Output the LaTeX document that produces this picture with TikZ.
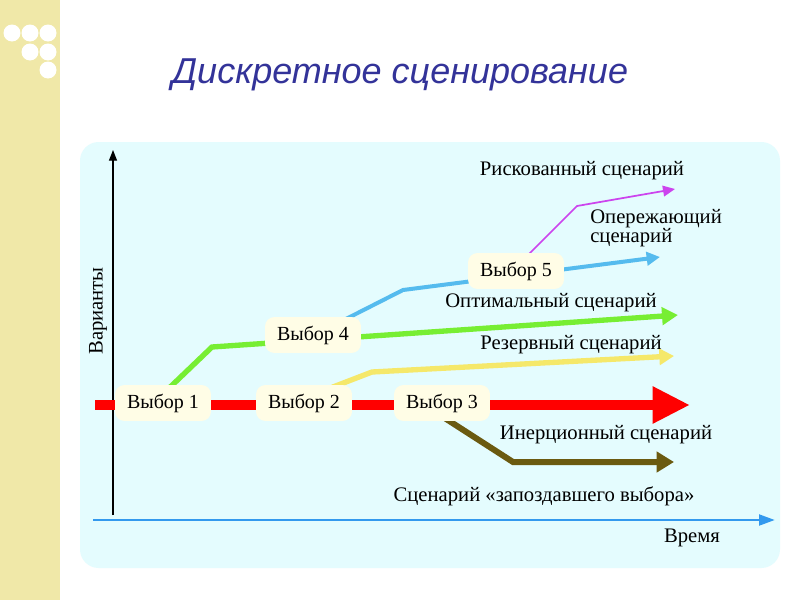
\documentclass[tikz,border=0pt]{standalone}
\usepackage{fontspec}
\setmainfont{Liberation Serif}
\newfontfamily\titlefont{Liberation Sans}
\usetikzlibrary{arrows.meta}
\definecolor{strip}{HTML}{F0E8A8}
\definecolor{panel}{HTML}{E4FCFE}
\definecolor{ttl}{HTML}{333399}
\definecolor{boxf}{HTML}{FFFDE6}
\definecolor{axblue}{HTML}{3399EE}
\definecolor{cgreen}{HTML}{77EE33}
\definecolor{cblue}{HTML}{55BBEE}
\definecolor{cmag}{HTML}{CC44EE}
\definecolor{cyel}{HTML}{F5E86A}
\definecolor{cbrown}{HTML}{6B5A10}
\tikzset{
 choice/.style={fill=boxf,rounded corners=7pt,inner xsep=9pt,inner ysep=6.5pt,font=\fontsize{15}{16}\selectfont},
 lbl/.style={font=\fontsize{15.5}{14}\selectfont,align=left,inner sep=0pt},
}
\begin{document}
\begin{tikzpicture}[x=0.75pt,y=-0.75pt]
\useasboundingbox (0,0) rectangle (800,600);
\fill[white] (0,0) rectangle (800,600);
\fill[strip] (0,0) rectangle (60,600);
\foreach \p in {(12,33),(30,33),(48,33),(30,52),(48,52),(48,70)} \fill[white] \p circle (8.5);
\node[font=\titlefont\itshape\fontsize{27}{30}\selectfont,text=ttl] (title) at (400,75) {Дискретное сценирование};
\fill[panel,rounded corners=14pt] (80,142) rectangle (780,568);
% axes
\coordinate (y0) at (113,515); \coordinate (y1) at (113,150);
\draw[-{Triangle[length=8pt,width=6pt]},line width=0.9pt] (y0) -- (y1);
\node[rotate=90,lbl] (var) at (98,311) {Варианты};
\coordinate (x0) at (93,520); \coordinate (x1) at (775,520);
\draw[axblue,line width=2.2pt,-{Triangle[length=12pt,width=8pt]}] (x0) -- (x1);
\node[lbl] (time) at (692,538) {Время};
% red main
\coordinate (r0) at (95,405); \coordinate (r1) at (690,405);
\draw[red,line width=8pt,-{Triangle[length=28pt,width=26pt]}] (r0) -- (r1);
% scenario lines
\coordinate (g1) at (212,347); \coordinate (g2) at (678,315);
\draw[cgreen,line width=4pt,-{Triangle[length=12pt,width=13pt]}] (165,392) -- (g1) -- (g2);
\coordinate (b1) at (403,290); \coordinate (b2) at (660,257);
\draw[cblue,line width=3pt,-{Triangle[length=10pt,width=10pt]}] (340,322) -- (b1) -- (b2);
\coordinate (m1) at (577,206); \coordinate (m2) at (675,189);
\draw[cmag,line width=1.3pt,-{Triangle[length=9pt,width=8pt]}] (528,255) -- (m1) -- (m2);
\coordinate (yy1) at (372,372); \coordinate (yy2) at (674,356);
\draw[cyel,line width=4pt,-{Triangle[length=11pt,width=12pt]}] (320,392) -- (yy1) -- (yy2);
\coordinate (br1) at (513,462); \coordinate (br2) at (674,462);
\draw[cbrown,line width=4.5pt,-{Triangle[length=13pt,width=15pt]}] (440,415) -- (br1) -- (br2);
% choice boxes
\node[choice] (c1) at (163,403) {Выбор 1};
\node[choice] (c2) at (304,403) {Выбор 2};
\node[choice] (c3) at (442,403) {Выбор 3};
\node[choice] (c4) at (313,335) {Выбор 4};
\node[choice] (c5) at (516,271) {Выбор 5};
% labels
\node[lbl] (l1) at (582,171) {Рискованный сценарий};
\node[lbl,anchor=west,text width=5cm] (l2) at (590,228) {Опережающий\\сценарий};
\node[lbl] (l3) at (551,303) {Оптимальный сценарий};
\node[lbl] (l4) at (571,345) {Резервный сценарий};
\node[lbl] (l5) at (606,435) {Инерционный сценарий};
\node[lbl] (l6) at (544,496) {Сценарий «запоздавшего выбора»};
\end{tikzpicture}
\end{document}
